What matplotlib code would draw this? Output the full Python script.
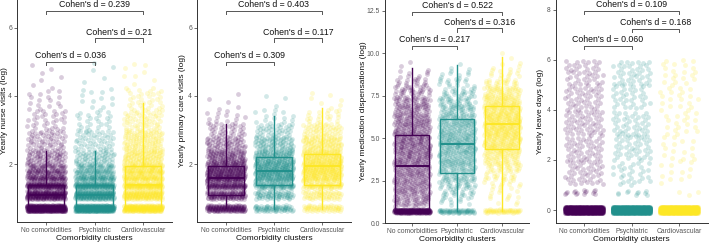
import numpy as np
import matplotlib
matplotlib.use("Agg")
import matplotlib.pyplot as plt

plt.rcParams['font.family'] = ['Liberation Sans', 'DejaVu Sans']

categories = ["No comorbidities", "Psychiatric", "Cardiovascular"]
colors = ["#440154", "#21908C", "#FDE725"]

# ---------- Panel 1: nurse visits ----------
nurse_bin_lo = [0.62, 0.98, 1.30, 1.52, 1.72, 1.88, 2.00, 2.40, 3.00, 3.60, 4.20]
nurse_bin_hi = [0.80, 1.22, 1.45, 1.68, 1.85, 2.00, 2.40, 3.00, 3.60, 4.20, 5.00]
nurse_counts_none = [420, 230, 160, 90, 60, 40, 70, 60, 30, 16, 7]
nurse_counts_psych = [380, 210, 150, 85, 55, 38, 60, 52, 25, 12, 5]
nurse_counts_cardio = [240, 160, 125, 90, 72, 58, 105, 110, 58, 30, 10]
nurse_q1 = [0.69, 0.69, 0.69]
nurse_med = [1.10, 1.10, 1.40]
nurse_q3 = [1.40, 1.40, 1.96]
nurse_wlo = [0.69, 0.69, 0.69]
nurse_whi = [2.39, 2.39, 3.80]
nurse_d = ["0.036", "0.21", "0.239"]

# ---------- Panel 2: primary care visits ----------
pc_bin_lo = [0.62, 0.98, 1.30, 1.50, 1.70, 1.90, 2.10, 2.40, 2.80, 3.20, 3.60]
pc_bin_hi = [0.80, 1.22, 1.45, 1.70, 1.90, 2.10, 2.40, 2.80, 3.20, 3.60, 4.10]
pc_counts_none = [150, 120, 110, 125, 110, 88, 88, 68, 34, 13, 5]
pc_counts_psych = [65, 65, 75, 95, 100, 90, 100, 80, 40, 13, 3]
pc_counts_cardio = [55, 55, 65, 85, 95, 95, 110, 95, 55, 20, 7]
pc_q1 = [1.11, 1.40, 1.40]
pc_med = [1.61, 1.81, 1.96]
pc_q3 = [1.94, 2.20, 2.31]
pc_wlo = [0.72, 0.69, 0.69]
pc_whi = [3.17, 3.40, 3.66]
pc_d = ["0.309", "0.117", "0.403"]

# ---------- Panel 3: medication dispensations ----------
med_bin_lo = [0.60, 1.0, 1.5, 2.0, 2.5, 3.0, 3.5, 4.0, 4.5, 5.0, 5.5, 6.0, 6.5, 7.0, 7.5, 8.0, 8.5, 9.0, 9.5]
med_bin_hi = [0.80, 1.5, 2.0, 2.5, 3.0, 3.5, 4.0, 4.5, 5.0, 5.5, 6.0, 6.5, 7.0, 7.5, 8.0, 8.5, 9.0, 9.5, 10.0]
med_counts_none = [280, 40, 45, 48, 50, 52, 58, 60, 60, 58, 52, 48, 42, 38, 28, 18, 8, 3, 0]
med_counts_psych = [60, 10, 20, 30, 38, 45, 50, 55, 58, 55, 50, 45, 38, 30, 22, 15, 8, 3, 0]
med_counts_cardio = [50, 5, 8, 12, 20, 30, 40, 55, 68, 78, 82, 80, 70, 58, 42, 25, 12, 5, 2]
med_q1 = [0.69, 2.97, 4.38]
med_med = [3.36, 4.68, 5.80]
med_q3 = [5.21, 6.10, 6.88]
med_wlo = [0.69, 0.69, 0.69]
med_whi = [9.10, 9.30, 9.79]
med_d = ["0.217", "0.316", "0.522"]

# ---------- Panel 4: leave days ----------
leave_bin_lo = [-0.12, 0.60, 1.0, 2.0, 3.0, 4.0, 5.0]
leave_bin_hi = [0.12, 0.80, 2.0, 3.0, 4.0, 5.0, 6.0]
leave_counts_none = [1200, 15, 45, 45, 50, 45, 40]
leave_counts_psych = [1200, 10, 30, 40, 40, 35, 40]
leave_counts_cardio = [1200, 3, 12, 15, 18, 20, 20]
leave_q1 = [0.0, 0.0, 0.0]
leave_med = [0.0, 0.0, 0.0]
leave_q3 = [0.0, 0.0, 0.0]
leave_wlo = [0.0, 0.0, 0.0]
leave_whi = [0.0, 0.0, 0.0]
leave_d = ["0.060", "0.168", "0.109"]

W, H = 709, 243
fig = plt.figure(figsize=(W / 100, H / 100), dpi=100)

A1 = 0.7548776662
A2 = 0.5698402910


def jitter_points(lo_list, hi_list, counts, seed_off):
    xs, ys = [], []
    k = 0
    for lo, hi, n in zip(lo_list, hi_list, counts):
        for i in range(n):
            k += 1
            u = (k * A1 + seed_off) % 1.0
            v = (k * A2 + seed_off * 0.37) % 1.0
            xs.append(0.4 * (2 * u - 1))
            ys.append(lo + (hi - lo) * v)
    return np.array(xs), np.array(ys)


panels = [
    dict(rect=(17, 172, 222, 0), ylim=(0.31, 6.81), ticks=[2, 4, 6], tl=["2", "4", "6"],
         ylabel="Yearly nurse visits (log)", lo=nurse_bin_lo, hi=nurse_bin_hi,
         counts=[nurse_counts_none, nurse_counts_psych, nurse_counts_cardio],
         q1=nurse_q1, med=nurse_med, q3=nurse_q3, wlo=nurse_wlo, whi=nurse_whi,
         d=nurse_d, br=[5.0, 5.69, 6.5], tick=0.1, ylabx=8),
    dict(rect=(197, 351, 222, 0), ylim=(0.31, 6.81), ticks=[2, 4, 6], tl=["2", "4", "6"],
         ylabel="Yearly primary care visits (log)", lo=pc_bin_lo, hi=pc_bin_hi,
         counts=[pc_counts_none, pc_counts_psych, pc_counts_cardio],
         q1=pc_q1, med=pc_med, q3=pc_q3, wlo=pc_wlo, whi=pc_whi,
         d=pc_d, br=[5.0, 5.69, 6.5], tick=0.1, ylabx=186),
    dict(rect=(385, 529, 223, 0), ylim=(0.0, 13.13), ticks=[0, 2.5, 5, 7.5, 10, 12.5],
         tl=["0.0", "2.5", "5.0", "7.5", "10.0", "12.5"],
         ylabel="Yearly medication dispensations (log)", lo=med_bin_lo, hi=med_bin_hi,
         counts=[med_counts_none, med_counts_psych, med_counts_cardio],
         q1=med_q1, med=med_med, q3=med_q3, wlo=med_wlo, whi=med_whi,
         d=med_d, br=[10.42, 11.46, 12.44], tick=0.2, ylabx=367),
    dict(rect=(555.5, 707.5, 223, 0), ylim=(-0.52, 8.4), ticks=[0, 2, 4, 6, 8],
         tl=["0", "2", "4", "6", "8"],
         ylabel="Yearly leave days (log)", lo=leave_bin_lo, hi=leave_bin_hi,
         counts=[leave_counts_none, leave_counts_psych, leave_counts_cardio],
         q1=leave_q1, med=leave_med, q3=leave_q3, wlo=leave_wlo, whi=leave_whi,
         d=leave_d, br=[6.56, 7.24, 7.96], tick=0.13, ylabx=544),
]

pairs = [(1, 2), (2, 3), (1, 3)]

for p in panels:
    l, r, b, t = p["rect"]
    ax = fig.add_axes([l / W, (H - b) / H, (r - l) / W, (b - t) / H])
    ax.set_xlim(0.4, 3.6)
    ax.set_ylim(*p["ylim"])
    for gi in range(3):
        xs, ys = jitter_points(p["lo"], p["hi"], p["counts"][gi], 0.13 * (gi + 1))
        ax.scatter(gi + 1 + xs, ys, s=12, color=colors[gi], alpha=0.2,
                   linewidths=0, zorder=1)
    stats = []
    for gi in range(3):
        stats.append(dict(med=p["med"][gi], q1=p["q1"][gi], q3=p["q3"][gi],
                          whislo=p["wlo"][gi], whishi=p["whi"][gi], fliers=[]))
    bp = ax.bxp(stats, positions=[1, 2, 3], widths=0.75, showfliers=False,
                showcaps=False, patch_artist=True, manage_ticks=False)
    for gi in range(3):
        bp["boxes"][gi].set(facecolor="none", edgecolor=colors[gi], linewidth=1.0, zorder=3)
        bp["medians"][gi].set(color=colors[gi], linewidth=1.4, zorder=3)
        for w in bp["whiskers"][2 * gi:2 * gi + 2]:
            w.set(color=colors[gi], linewidth=1.0, zorder=3)
    # significance brackets
    for (a, c), yb, dtxt in zip(pairs, p["br"], p["d"]):
        ax.plot([a, a, c, c], [yb - p["tick"], yb, yb, yb - p["tick"]],
                color="#555555", linewidth=0.7, zorder=4, clip_on=False)
        ax.text((a + c) / 2, yb + p["tick"] * 0.5, "Cohen's d = " + dtxt,
                ha="center", va="bottom", fontsize=6.3, color="#111111")
    ax.set_xticks([1, 2, 3])
    ax.set_xticklabels(categories, fontsize=4.9, color="#555555")
    ax.set_yticks(p["ticks"])
    ax.set_yticklabels(p["tl"], fontsize=4.9, color="#555555")
    ax.tick_params(axis="both", length=2, width=0.5, color="#333333", pad=1.5)
    for s in ["top", "right"]:
        ax.spines[s].set_visible(False)
    for s in ["left", "bottom"]:
        ax.spines[s].set_color("#333333")
        ax.spines[s].set_linewidth(0.7)
    ax.set_facecolor("none")
    ax.set_xlabel("Comorbidity clusters", fontsize=6.0, color="#111111", labelpad=1)
    ax.set_ylabel(p["ylabel"], fontsize=6.0, color="#111111")
    ax.yaxis.set_label_coords((p["ylabx"] - l) / (r - l), 0.5)

fig.savefig("out.png", dpi=100)
